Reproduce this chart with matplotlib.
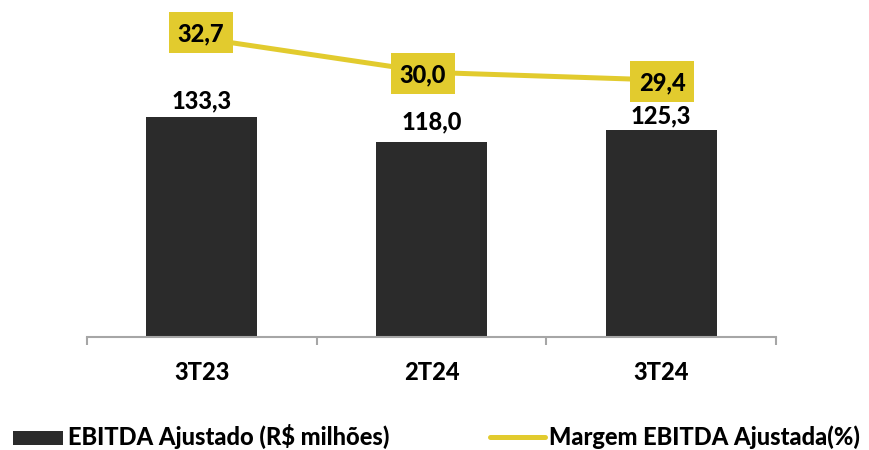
import matplotlib
matplotlib.use("Agg")
import matplotlib.pyplot as plt
from matplotlib.patches import Rectangle
from matplotlib.lines import Line2D
from matplotlib.transforms import ScaledTranslation

categories = ["3T23", "2T24", "3T24"]
ebitda = [133.3, 118.0, 125.3]
margem = [32.7, 30.0, 29.4]
ebitda_labels = ["133,3", "118,0", "125,3"]
margem_labels = ["32,7", "30,0", "29,4"]
legend_bar = "EBITDA Ajustado (R$ milhões)"
legend_line = "Margem EBITDA Ajustada(%)"

# style
BAR = "#2b2b2b"
YEL = "#e2cb2e"
GRAY = "#a6a6a6"
FONT = "Lato"
FW = 900
FS = 17
DPI = 100
W, H = 869, 450

plt.rcParams["font.family"] = [FONT, "DejaVu Sans"]
plt.rcParams["font.weight"] = FW

fig = plt.figure(figsize=(W / DPI, H / DPI), dpi=DPI)
ax = fig.add_axes([87 / W, 113 / H, 689 / W, 337 / H])
x = list(range(len(categories)))

ax.bar(x, ebitda, width=0.483, color=BAR, zorder=2)
ax.set_xlim(-0.5, len(categories) - 0.5)
ax.set_ylim(0, 204.1)

for s in ["left", "right", "top"]:
    ax.spines[s].set_visible(False)
ax.spines["bottom"].set_color(GRAY)
ax.spines["bottom"].set_linewidth(1.5)
ax.set_yticks([])
ax.set_xticks(x)
ax.set_xticklabels(categories, fontsize=FS, fontweight=FW)
ax.tick_params(axis="x", which="major", length=0, pad=17)
ax.set_xticks([i - 0.5 for i in range(len(categories) + 1)], minor=True)
ax.tick_params(axis="x", which="minor", length=6, width=1.5, color=GRAY, direction="out")

# bar labels (baseline offsets in px)
bar_off = [9, 13, 7]
for xi, v, lab, off in zip(x, ebitda, ebitda_labels, bar_off):
    ax.annotate(lab, (xi, v), xytext=(0, off * 72 / DPI), textcoords="offset points",
                ha="center", va="baseline", fontsize=FS, fontweight=FW, color="black")

ax2 = ax.twinx()
ax2.set_ylim(9.07, 35.73)
ax2.set_yticks([])
for s in ax2.spines.values():
    s.set_visible(False)
ax2.plot(x, margem, color=YEL, linewidth=3.6, solid_capstyle="butt", zorder=3)

# label boxes (offsets in px from point)
box_off = [(-1, 6), (-9, -1), (1, -1.5)]
bw, bh = 64, 41
for xi, v, lab, (dx, dy) in zip(x, margem, margem_labels, box_off):
    tr = fig.dpi_scale_trans + ScaledTranslation(xi, v, ax2.transData)
    rect = Rectangle(((dx - bw / 2) / DPI, (dy - bh / 2) / DPI), bw / DPI, bh / DPI,
                     transform=tr, facecolor=YEL, edgecolor="none", zorder=4, clip_on=False)
    ax2.add_patch(rect)
    ax2.text(dx / DPI, (dy - 9) / DPI, lab, transform=tr, ha="center", va="baseline",
             fontsize=FS, fontweight=FW, color="black", zorder=5)

# legend
fig.add_artist(Rectangle((13 / W, (H - 445) / H), 50 / W, 14 / H, transform=fig.transFigure,
                         facecolor=BAR, edgecolor="none"))
fig.text(68 / W, (H - 445) / H, legend_bar, fontsize=FS, fontweight=FW, va="baseline", ha="left")
fig.add_artist(Line2D([490 / W, 545 / W], [(H - 437) / H] * 2, transform=fig.transFigure,
                      color=YEL, linewidth=3.6, solid_capstyle="round"))
fig.text(549 / W, (H - 445) / H, legend_line, fontsize=FS, fontweight=FW, va="baseline", ha="left")

fig.savefig("out.png", dpi=DPI)
